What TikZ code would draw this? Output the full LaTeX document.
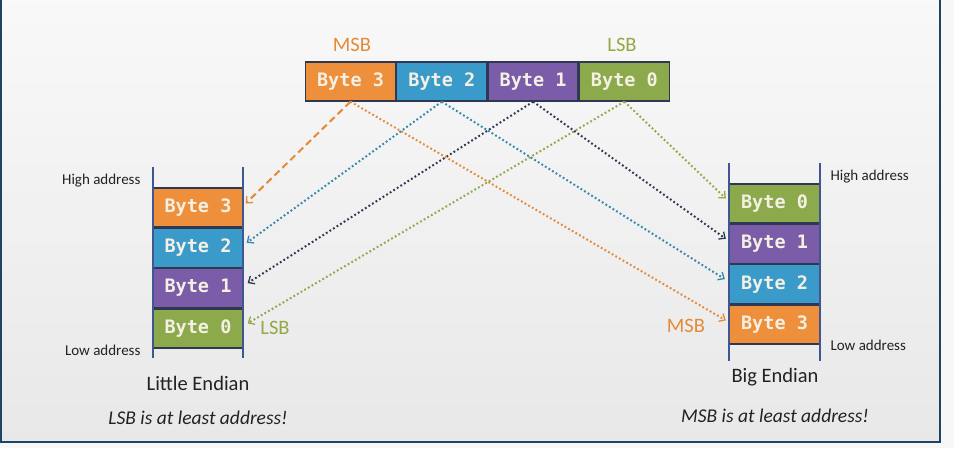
\documentclass[tikz,border=0pt]{standalone}
\usepackage{fontspec}
\setmainfont{Carlito}
\setmonofont{DejaVu Sans Mono}
\usetikzlibrary{arrows.meta,positioning}

\definecolor{byteorange}{HTML}{EE8F3C}
\definecolor{byteblue}{HTML}{3A9AC9}
\definecolor{bytepurple}{HTML}{7A5CA8}
\definecolor{bytegreen}{HTML}{8CA94B}
\definecolor{arrnavy}{HTML}{2E3852}
\definecolor{arrblue}{HTML}{3587AE}
\definecolor{arrgreen}{HTML}{93A848}
\definecolor{arrorange}{HTML}{E58A38}
\definecolor{framecol}{HTML}{1C4466}
\definecolor{stackcol}{HTML}{3F5690}
\definecolor{celltext}{HTML}{F4F0E4}
\definecolor{labeltext}{HTML}{222222}

\begin{document}
\begin{tikzpicture}[
    x=1pt, y=-1pt,
    cell/.style={rectangle, draw=arrnavy, line width=1.3pt, minimum width=90pt, minimum height=39pt,
        inner sep=0pt, text=celltext, font=\fontsize{18.5}{20}\selectfont\ttfamily\bfseries},
    addr/.style={font=\fontsize{15}{18}\selectfont, text=labeltext},
    title/.style={font=\fontsize{20.5}{24}\selectfont, text=labeltext},
    note/.style={font=\fontsize{19.5}{24}\selectfont\itshape, text=labeltext},
    bitlabel/.style={font=\fontsize{20.5}{24}\selectfont},
    rail/.style={draw=stackcol, line width=1.5pt},
    arrow/.style={line width=2pt, dash pattern=on 1.8pt off 2.4pt,
        -{Straight Barb[length=5pt,width=9pt,line width=1.3pt]}},
    dasharrow/.style={line width=2pt, dash pattern=on 7pt off 4pt,
        -{Straight Barb[length=5pt,width=9pt,line width=1.3pt]}}
]
    \useasboundingbox (0,0) rectangle (954,448);
    % background
    \fill[white!94!gray] (0,0) rectangle (954,448);
    \shade[top color=white!95!gray, bottom color=white!82!gray] (1,0) rectangle (940,442);
    \draw[framecol, line width=2pt] (1,0) -- (1,442) -- (940,442) -- (940,0);

    % word in register
    \node[cell, fill=byteorange] (t3) at (350.5,81.5) {Byte 3};
    \node[cell, fill=byteblue, right=0pt of t3] (t2) {Byte 2};
    \node[cell, fill=bytepurple, right=0pt of t2] (t1) {Byte 1};
    \node[cell, fill=bytegreen, right=0pt of t1] (t0) {Byte 0};
    \node[bitlabel, text=arrorange] (msb) at (352,45) {MSB};
    \node[bitlabel, text=arrgreen] (lsb) at (622,45) {LSB};

    % little endian stack
    \node[cell, fill=byteorange] (l3) at (198,207.5) {Byte 3};
    \node[cell, fill=byteblue, below=0pt of l3] (l2) {Byte 2};
    \node[cell, fill=bytepurple, below=0pt of l2] (l1) {Byte 1};
    \node[cell, fill=bytegreen, below=0pt of l1] (l0) {Byte 0};
    \coordinate (lA) at (153,167);
    \coordinate (lB) at (153,358);
    \coordinate (lC) at (243,167);
    \coordinate (lD) at (243,358);
    \draw[rail] (lA) -- (lB);
    \draw[rail] (lC) -- (lD);
    \node[addr, anchor=east] (lhigh) at (144,181) {High address};
    \node[addr, anchor=east] (llow) at (144,350) {Low address};
    \node[bitlabel, text=arrgreen] (llsb) at (275,328) {LSB};
    \node[title] (little) at (198,383) {Little Endian};
    \node[note] (lnote) at (198,418) {LSB is at least address!};

    % big endian stack
    \node[cell, fill=bytegreen] (r0) at (774.5,203.5) {Byte 0};
    \node[cell, fill=bytepurple, below=0pt of r0] (r1) {Byte 1};
    \node[cell, fill=byteblue, below=0pt of r1] (r2) {Byte 2};
    \node[cell, fill=byteorange, below=0pt of r2] (r3) {Byte 3};
    \coordinate (rA) at (729,163);
    \coordinate (rB) at (729,361);
    \coordinate (rC) at (820,163);
    \coordinate (rD) at (820,361);
    \draw[rail] (rA) -- (rB);
    \draw[rail] (rC) -- (rD);
    \node[addr, anchor=west] (rhigh) at (827,177) {High address};
    \node[addr, anchor=west] (rlow) at (827,345) {Low address};
    \node[bitlabel, text=arrorange] (rmsb) at (686,326) {MSB};
    \node[title] (big) at (775,377) {Big Endian};
    \node[note] (rnote) at (775,416) {MSB is at least address!};

    % to little endian
    \draw[dasharrow, arrorange] (t3.south) -- ([xshift=2pt,yshift=4pt]l3.east);
    \draw[arrow, arrblue] (t2.south) -- ([xshift=3pt,yshift=5pt]l2.east);
    \draw[arrow, arrnavy] (t1.south) -- ([xshift=4pt,yshift=5pt]l1.east);
    \draw[arrow, arrgreen] (t0.south) -- ([xshift=4pt,yshift=5pt]l0.east);

    % to big endian
    \draw[arrow, arrorange] (t3.south) -- ([xshift=-3pt,yshift=4pt]r3.west);
    \draw[arrow, arrblue] (t2.south) -- ([xshift=-4pt,yshift=5pt]r2.west);
    \draw[arrow, arrnavy] (t1.south) -- ([xshift=-3pt,yshift=5pt]r1.west);
    \draw[arrow, arrgreen] (t0.south) -- ([xshift=-3pt,yshift=5pt]r0.west);
\end{tikzpicture}
\end{document}
